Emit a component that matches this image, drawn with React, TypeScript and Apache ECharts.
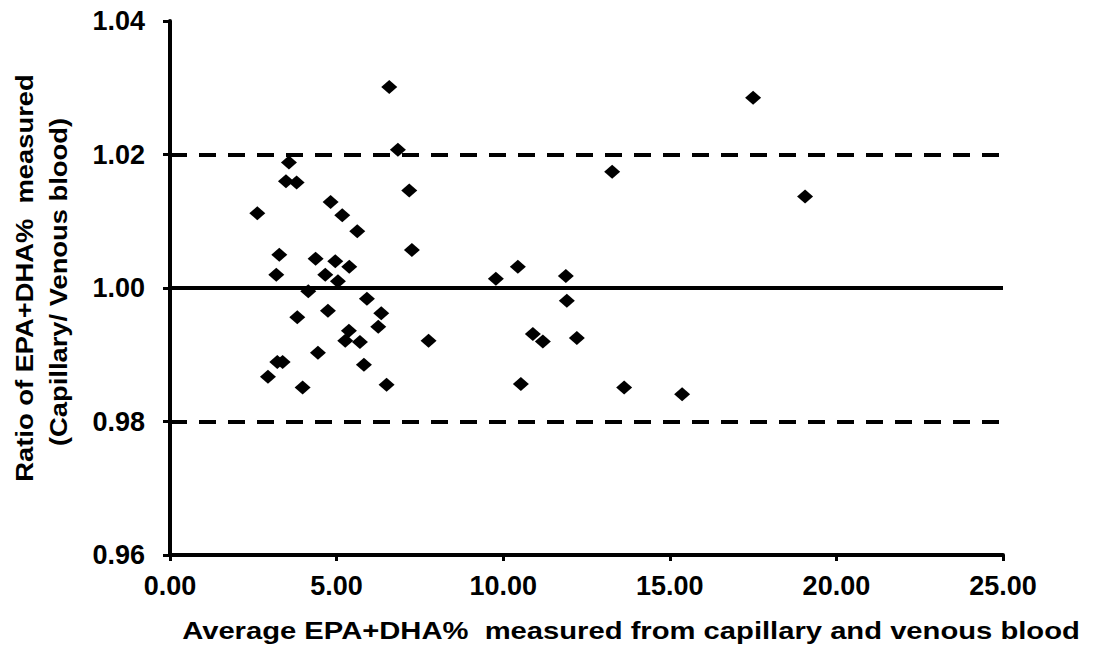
import React, { useEffect, useRef } from "react";
import * as echarts from "echarts";

// Average EPA+DHA% of capillary and venous blood for each subject
const avgEpaDha = [
  6.58, 17.5, 6.84, 3.57, 3.48, 3.8, 13.27, 7.18, 4.82, 2.62, 5.17, 19.06,
  5.62, 7.26, 3.28, 4.37, 4.96, 5.38, 3.19, 4.66, 5.04, 4.15, 5.91, 3.82,
  4.74, 6.34, 6.25, 5.37, 5.26, 5.7, 7.76, 4.44, 3.22, 3.38, 5.82, 2.94,
  3.98, 6.5, 9.78, 10.44, 11.88, 11.91, 10.89, 11.19, 12.21, 10.53, 13.63,
  15.37,
];

// Ratio capillary / venous EPA+DHA% for the same subjects
const ratioCapVen = [
  1.0301, 1.0285, 1.0207, 1.0188, 1.016, 1.0158, 1.0174, 1.0146, 1.0129,
  1.0112, 1.0109, 1.0137, 1.0085, 1.0057, 1.005, 1.0044, 1.004, 1.0032,
  1.002, 1.002, 1.001, 0.9995, 0.9984, 0.9956, 0.9966, 0.9962, 0.9942,
  0.9936, 0.9921, 0.9919, 0.9921, 0.9903, 0.9889, 0.9889, 0.9885, 0.9867,
  0.9851, 0.9855, 1.0014, 1.0032, 1.0018, 0.9981, 0.9931, 0.992, 0.9925,
  0.9856, 0.9851, 0.9841,
];

// Bland-Altman style reference lines: mean ratio and limits of agreement
const meanRatio = 1.0004;
const upperLimit = 1.0198;
const lowerLimit = 0.9794;

const xAxisTitle = "Average EPA+DHA%  measured from capillary and venous blood";
const yAxisTitleLines = ["Ratio of EPA+DHA%  measured", "(Capillary/ Venous blood)"];

const FONT = '"Liberation Sans", Arial, Helvetica, sans-serif';

export default function App() {
  const ref = useRef<HTMLDivElement>(null);

  useEffect(() => {
    if (!ref.current) return;
    const chart = echarts.init(ref.current, undefined, { renderer: "svg" });

    const points = avgEpaDha.map((x, i) => [x, ratioCapVen[i]]);

    chart.setOption({
      animation: false,
      backgroundColor: "#ffffff",
      grid: { left: 170, right: 96, top: 21, bottom: 97, containLabel: false },
      xAxis: {
        type: "value",
        min: 0,
        max: 25,
        interval: 5,
        splitLine: { show: false },
        axisLine: { show: true, onZero: false, lineStyle: { color: "#000", width: 4 } },
        axisTick: { show: true, length: 6, lineStyle: { color: "#000", width: 3 } },
        axisLabel: {
          margin: 17,
          color: "#000",
          fontFamily: FONT,
          fontWeight: "bold",
          fontSize: 27,
          formatter: (v: number) => v.toFixed(2),
        },
      },
      yAxis: {
        type: "value",
        min: 0.96,
        max: 1.04,
        interval: 0.02,
        splitLine: { show: false },
        axisLine: { show: true, onZero: false, lineStyle: { color: "#000", width: 4 } },
        axisTick: { show: true, length: 7, lineStyle: { color: "#000", width: 3 } },
        axisLabel: {
          margin: 25,
          color: "#000",
          fontFamily: FONT,
          fontWeight: "bold",
          fontSize: 27,
          formatter: (v: number) => v.toFixed(2),
        },
      },
      graphic: [
        {
          type: "text",
          x: 631,
          y: 631,
          scaleX: 1.27,
          style: {
            text: xAxisTitle,
            font: `bold 23px ${FONT}`,
            fill: "#000",
            textAlign: "center",
            textVerticalAlign: "middle",
          },
        },
        {
          type: "text",
          x: 25,
          y: 278,
          rotation: Math.PI / 2,
          scaleX: 1.14,
          style: {
            text: yAxisTitleLines[0],
            font: `bold 24px ${FONT}`,
            fill: "#000",
            textAlign: "center",
            textVerticalAlign: "middle",
          },
        },
        {
          type: "text",
          x: 59,
          y: 282,
          rotation: Math.PI / 2,
          scaleX: 1.14,
          style: {
            text: yAxisTitleLines[1],
            font: `bold 24px ${FONT}`,
            fill: "#000",
            textAlign: "center",
            textVerticalAlign: "middle",
          },
        },
      ],
      series: [
        {
          type: "scatter",
          data: points,
          symbol: "diamond",
          symbolSize: [16, 14],
          itemStyle: { color: "#000", opacity: 1 },
          silent: true,
          z: 3,
          markLine: {
            silent: true,
            symbol: "none",
            label: { show: false },
            z: 2,
            data: [
              { yAxis: upperLimit, lineStyle: { type: [17, 12], width: 4, color: "#000" } },
              { yAxis: meanRatio, lineStyle: { type: "solid", width: 4, color: "#000" } },
              { yAxis: lowerLimit, lineStyle: { type: [17, 12], width: 4, color: "#000" } },
            ],
          },
        },
      ],
    });

    return () => chart.dispose();
  }, []);

  return (
    <div
      ref={ref}
      style={{ position: "absolute", left: 0, top: 0, width: 1099, height: 652 }}
    />
  );
}
